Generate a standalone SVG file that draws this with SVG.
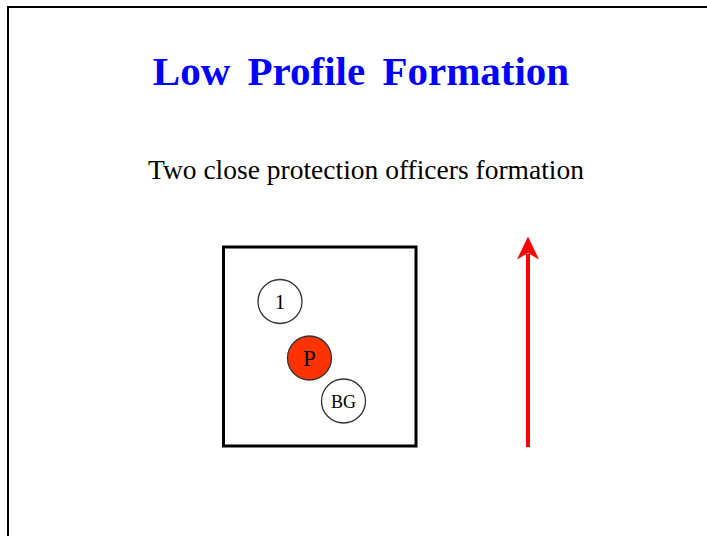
<svg xmlns="http://www.w3.org/2000/svg" width="707" height="536" viewBox="0 0 707 536">
<style>
.title{font-family:"Liberation Serif","Times New Roman",serif;font-weight:bold;font-size:41px;fill:#0000FF;word-spacing:7px}
.sub{font-family:"Liberation Serif","Times New Roman",serif;font-size:27.5px;fill:#000}
.lbl{font-family:"Liberation Serif","Times New Roman",serif;fill:#000;text-anchor:middle}
.node{stroke:#333;stroke-width:1.3}
</style>
<rect x="0" y="0" width="707" height="536" fill="#fff"/>
<rect x="8" y="7" width="800" height="600" fill="none" stroke="#000" stroke-width="2"/>
<text class="title" x="361" y="84.5" text-anchor="middle">Low Profile Formation</text>
<text class="sub" x="366" y="179" text-anchor="middle">Two close protection officers formation</text>
<g id="box"><rect x="223.5" y="247" width="192.5" height="199" fill="none" stroke="#000" stroke-width="3"/></g>
<g id="n1"><circle class="node" cx="280" cy="301.5" r="22" fill="#fff"/><text class="lbl" x="280" y="309" font-size="21">1</text></g>
<g id="nP"><circle class="node" cx="309.5" cy="358" r="22" fill="#FF3300"/><text class="lbl" x="309.5" y="366" font-size="23">P</text></g>
<g id="nBG"><circle class="node" cx="343.5" cy="401" r="22" fill="#fff"/><text class="lbl" x="343.5" y="407.5" font-size="18">BG</text></g>
<g id="connectors">
<line x1="528" y1="447" x2="528" y2="254" stroke="#FF0000" stroke-width="4"/>
<path d="M528,236.5 L539,259.5 L528,253 L517,259.5 Z" fill="#FF0000"/>
</g>
</svg>
